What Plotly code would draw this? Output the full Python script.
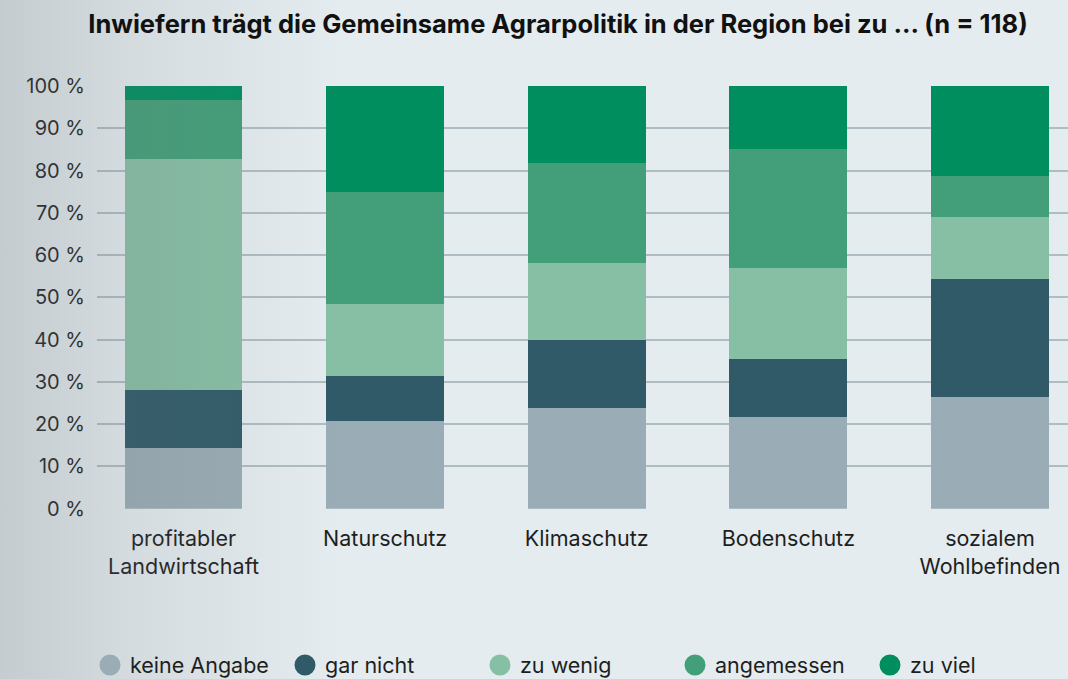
import plotly.graph_objects as go

categories = ["profitabler<br>Landwirtschaft", "Naturschutz", "Klimaschutz", "Bodenschutz", "sozialem<br>Wohlbefinden"]
series_names = ["keine Angabe", "gar nicht", "zu wenig", "angemessen", "zu viel"]
keine_angabe = [14.4, 20.7, 23.8, 21.7, 26.5]
gar_nicht = [13.7, 10.7, 16.1, 13.7, 27.9]
zu_wenig = [54.6, 17.0, 18.2, 21.5, 14.7]
angemessen = [14.0, 26.5, 23.7, 28.2, 9.7]
zu_viel = [3.3, 25.1, 18.2, 14.9, 21.2]
y_tickvals = [0, 10, 20, 30, 40, 50, 60, 70, 80, 90, 100]
y_ticktext = ["0 %", "10 %", "20 %", "30 %", "40 %", "50 %", "60 %", "70 %", "80 %", "90 %", "100 %"]
title_text = "Inwiefern trägt die Gemeinsame Agrarpolitik in der Region bei zu ... (n = 118)"

colors = ["#9aacb5", "#305a68", "#87bfa4", "#439f79", "#008e5f"]
series = [keine_angabe, gar_nicht, zu_wenig, angemessen, zu_viel]

FONT = "Inter"
W, H = 1068, 679
xpos = list(range(len(categories)))

fig = go.Figure()
for name, vals, col in zip(series_names, series, colors):
    fig.add_trace(go.Bar(x=xpos, y=vals, name=name, marker=dict(color=col, line=dict(width=0)),
                         showlegend=False, hoverinfo="skip"))
for name, col in zip(series_names, colors):
    fig.add_trace(go.Scatter(x=[None], y=[None], mode="markers", name=name,
                             marker=dict(symbol="circle", size=16, color=col,
                                         line=dict(width=5, color=col))))

# left-side gradient overlay
fig.add_trace(go.Scatter(x=[0, 1, 1, 0, 0], y=[0, 0, 1, 1, 0], xaxis="x2", yaxis="y2",
                         mode="lines", line=dict(width=0), fill="toself",
                         fillgradient=dict(type="horizontal",
                                           colorscale=[[0, "rgba(110,118,124,0.27)"],
                                                       [0.12, "rgba(110,118,124,0.14)"],
                                                       [0.32, "rgba(110,118,124,0.0)"],
                                                       [1, "rgba(110,118,124,0.0)"]]),
                         showlegend=False, hoverinfo="skip"))

x0 = 97 / W
y_bot = 1 - 508.7 / H
y_top = 1 - 86 / H

fig.update_layout(
    width=W, height=H,
    margin=dict(l=0, r=0, t=0, b=0, autoexpand=False),
    paper_bgcolor="#e4ecef",
    plot_bgcolor="rgba(0,0,0,0)",
    barmode="stack",
    bargap=0.415,
    font=dict(family=FONT, color="#1e1e1e"),
    title=dict(text="<b>" + title_text + "</b>", x=558 / W, xanchor="center",
               y=1 - 24 / H, yanchor="middle", font=dict(size=25.5, family=FONT, color="#111")),
    xaxis=dict(domain=[x0, 1], range=[-0.429, 4.387], tickvals=xpos, ticktext=categories,
               showgrid=False, zeroline=False, showline=False, ticks="", ticklabelstandoff=15,
               tickfont=dict(size=21.5, family=FONT, color="#1e1e1e"), fixedrange=True),
    yaxis=dict(domain=[y_bot, y_top], range=[0, 100], tickvals=y_tickvals, ticktext=y_ticktext,
               showgrid=True, gridcolor="#aebcc3", gridwidth=1.5, zeroline=False, showline=False,
               ticks="", ticklabelstandoff=11,
               tickfont=dict(size=20, family=FONT, color="#1e1e1e"), fixedrange=True),
    xaxis2=dict(domain=[0, 1], range=[0, 1], visible=False, fixedrange=True),
    yaxis2=dict(domain=[0, 1], range=[0, 1], visible=False, fixedrange=True),
    legend=dict(orientation="h", x=90 / W, xanchor="left", y=1 - 665 / H, yanchor="middle",
                traceorder="normal", entrywidth=150, entrywidthmode="pixels",
                font=dict(size=21.5, family=FONT, color="#1e1e1e"), bgcolor="rgba(0,0,0,0)",
                itemsizing="trace", tracegroupgap=0),
)

fig.write_html("out.html", config={"displayModeBar": False},
               post_script="document.body.style.margin='0';")
